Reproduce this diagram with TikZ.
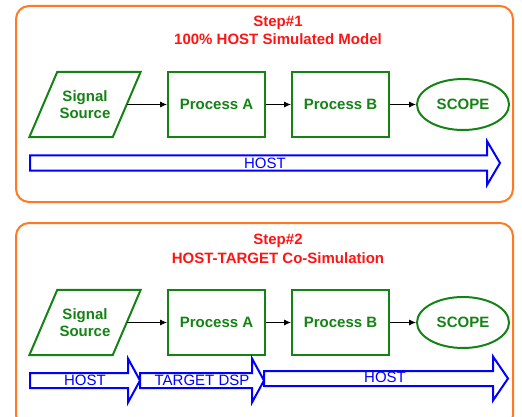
\documentclass[tikz,border=0pt]{standalone}
\usepackage{fontspec}
\setmainfont{Liberation Sans}
\usetikzlibrary{shapes.geometric,arrows.meta}

\definecolor{panelorange}{RGB}{255,121,35}
\definecolor{boxgreen}{RGB}{20,130,20}
\definecolor{hostblue}{RGB}{0,0,255}
\definecolor{titlered}{RGB}{255,20,20}

\tikzset{
  panel/.style={draw=panelorange, line width=2pt, rounded corners=13pt},
  title/.style={text=titlered, font=\bfseries\fontsize{15}{18}\selectfont, anchor=base, inner sep=0pt},
  greentext/.style={text=boxgreen, font=\bfseries\fontsize{15}{17.6}\selectfont, inner sep=0pt},
  block/.style={greentext, draw=boxgreen, line width=2pt,
    minimum width=97pt, minimum height=65pt},
  % the slanted input box: the node itself is the unslanted core rectangle
  source/.style={greentext, rectangle, minimum width=83pt, minimum height=65pt, align=center},
  sourceedge/.style={draw=boxgreen, line width=2pt, line join=miter},
  scopebox/.style={block, ellipse, minimum width=92pt, minimum height=51pt},
  flow/.style={-{Latex[length=7pt,width=6pt]}, line width=0.8pt, black},
  band/.style={draw=hostblue, line width=2pt, fill=white, line join=miter},
  bandlabel/.style={text=hostblue, font=\fontsize{15}{18}\selectfont, anchor=base, inner sep=0pt},
}

% wide hollow arrow: left x, head base x, tip x, centre y
\newcommand\bandarrow[4]{%
  \draw[band] (#1,#4-7.5) -- (#2,#4-7.5) -- (#2,#4-22) -- (#3,#4)
    -- (#2,#4+22) -- (#2,#4+7.5) -- (#1,#4+7.5) -- cycle;}

% parallelogram outline around a source node
\newcommand\slantoutline[1]{%
  \draw[sourceedge] ([xshift=14pt]#1.north west) -- ([xshift=14pt]#1.north east)
    -- ([xshift=-14pt]#1.south east) -- ([xshift=-14pt]#1.south west) -- cycle;}

\begin{document}
\begin{tikzpicture}[x=1pt,y=-1pt]
  \useasboundingbox (0,0) rectangle (522,417);
  \clip (0,0) rectangle (522,417);

  % ---- Step 1 ----
  \draw[panel] (16,6) rectangle (513,202);
  \node[title] (t1a) at (278,26.5) {Step\#1};
  \node[title] (t1b) at (278,45) {100\% HOST Simulated Model};

  \node[source]   (src1)   at (85,104.5)    {Signal\\Source};
  \slantoutline{src1}
  \node[block]    (pa1)    at (216.5,104.5) {Process A};
  \node[block]    (pb1)    at (340.5,104.5) {Process B};
  \node[scopebox] (scope1) at (463,104.5)   {SCOPE};

  \draw[flow] (src1) -- (pa1);
  \draw[flow] (pa1) -- (pb1);
  \draw[flow] (pb1) -- (scope1);

  \bandarrow{30}{487}{500}{163}
  \node[bandlabel] (h1) at (265,168.3) {HOST};

  % ---- Step 2 ----
  \draw[panel] (16,223) rectangle (513,428);
  \node[title] (t2a) at (278,244.5) {Step\#2};
  \node[title] (t2b) at (278,263.3) {HOST-TARGET Co-Simulation};

  \node[source]   (src2)   at (85,322.5)    {Signal\\Source};
  \slantoutline{src2}
  \node[block]    (pa2)    at (216.5,322.5) {Process A};
  \node[block]    (pb2)    at (340.5,322.5) {Process B};
  \node[scopebox] (scope2) at (463,322.5)   {SCOPE};

  \draw[flow] (src2) -- (pa2);
  \draw[flow] (pa2) -- (pb2);
  \draw[flow] (pb2) -- (scope2);

  \bandarrow{30}{128}{140}{380.5}
  \bandarrow{140}{252}{264}{380.5}
  \bandarrow{264}{493}{508}{378.5}
  \node[bandlabel] (h2) at (85,385.7)  {HOST};
  \node[bandlabel] (d2) at (202,385.7) {TARGET DSP};
  \node[bandlabel] (h3) at (385,382.7) {HOST};
\end{tikzpicture}
\end{document}
